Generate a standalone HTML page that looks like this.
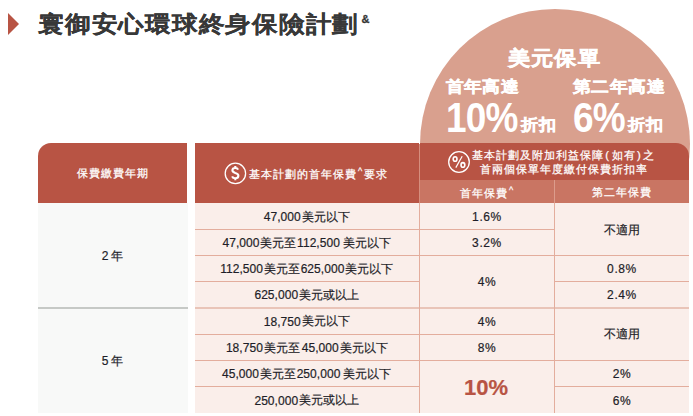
<!DOCTYPE html>
<html><head><meta charset="utf-8">
<style>
*{margin:0;padding:0;box-sizing:border-box}
html,body{width:693px;height:416px;overflow:hidden;background:#fff;font-family:"Liberation Sans",sans-serif}
.a{position:absolute}
.tri{left:8px;top:13px;width:0;height:0;border-top:11px solid transparent;border-bottom:11px solid transparent;border-left:11px solid #b85444}
.title{left:38px;top:7px;font-size:25px;line-height:34px;font-weight:700;color:#383838;-webkit-text-stroke:0.15px #383838;letter-spacing:1.75px;white-space:nowrap;transform:scaleY(0.9);transform-origin:0 16px}
.amp{left:361.5px;top:13px;font-size:11px;font-weight:bold;color:#333;-webkit-text-stroke:0.3px #333}
.circ{left:419.5px;top:9px;width:270px;height:270px;border-radius:50%;background:#d9a08e}
.w{color:#fff;font-weight:bold;white-space:nowrap}
.hdr{background:#b85444}
.sub{background:#c97563}
.cell{display:flex;align-items:center;justify-content:center;color:#fff;font-size:12px;white-space:nowrap}
.body1{background:#f8f9f8}
.bodyp{background:#faeeea}
.hl{background:#e3ad9d;height:1px}
.vl{background:#e3ad9d;width:1px}
.t{display:flex;align-items:center;justify-content:center;color:#1e1e28;-webkit-text-stroke:0.2px #1e1e28;font-size:12px;white-space:nowrap;padding-top:2px}
.n{margin:0 0.8px;letter-spacing:0.05px}
.p{letter-spacing:0.6px;margin-left:0;margin-right:0}
.big{font-size:22px;font-weight:bold;color:#b85444;-webkit-text-stroke:0.2px #b85444}
.cj{font-weight:700;-webkit-text-stroke:0.5px #fff;transform:scaleY(0.9);transform-origin:0 100%}
.num{font-size:43px;line-height:48px;letter-spacing:-1px;transform:scaleX(0.86);transform-origin:0 0}
.hw{color:#fff;font-size:11.3px;line-height:16px;font-weight:400;-webkit-text-stroke:0.25px #fff;letter-spacing:1px;white-space:nowrap}
.car{font-size:9px;vertical-align:4px;margin:0 1px}
.par{margin:0 1.5px}
</style></head><body>
<div class="a tri"></div>
<div class="a title">寰御安心環球終身保險計劃</div>
<div class="a amp">&amp;</div>

<div class="a circ"></div>
<div class="a w cj" style="left:508px;top:42px;font-size:22px;line-height:30px;letter-spacing:1.2px">美元保單</div>
<div class="a w cj" style="left:445.7px;top:73px;font-size:18px;line-height:25px;letter-spacing:0.4px">首年高達</div>
<div class="a w cj" style="left:573px;top:73px;font-size:18px;line-height:25px;letter-spacing:0.4px">第二年高達</div>
<div class="a w num" style="left:446px;top:93px">10%</div>
<div class="a w cj" style="left:521px;top:113px;font-size:17px;line-height:24px;letter-spacing:0.5px;transform:scaleY(0.94)">折扣</div>
<div class="a w num" style="left:573px;top:93px">6%</div>
<div class="a w cj" style="left:627.5px;top:113px;font-size:17px;line-height:24px;letter-spacing:1.5px;transform:scaleY(0.94)">折扣</div>

<!-- header -->
<div class="a hdr" style="left:38px;top:143.3px;width:149.3px;height:59.7px;border-top-left-radius:13px"></div>
<div class="a hw" style="left:76.5px;top:164.5px">保費繳費年期</div>
<div class="a hdr" style="left:195px;top:143.3px;width:224px;height:59.7px"></div>
<svg class="a" style="left:224px;top:162px" width="23" height="23" viewBox="0 0 23 23"><circle cx="11.4" cy="11.4" r="10.2" fill="none" stroke="#fff" stroke-width="1.3"/><path d="M14.1 7.6C13.6 6.5 12.6 6 11.3 6C9.6 6 8.4 6.9 8.4 8.3C8.4 9.8 9.7 10.4 11.3 10.9C13.1 11.4 14.4 12.1 14.4 13.8C14.4 15.4 13.1 16.3 11.3 16.3C9.8 16.3 8.6 15.7 8.1 14.4M11.3 3.9V6.2M11.3 16.1V18.3" fill="none" stroke="#fff" stroke-width="2.1"/></svg>
<div class="a hw" style="left:249px;top:163px">基本計劃的首年保費<span class="car">^</span>要求</div>
<div class="a" style="left:419px;top:143.5px;width:1px;height:59.5px;background:#d58e7e"></div>
<div class="a hdr" style="left:420px;top:143.4px;width:269px;height:36.6px;border-top-right-radius:13px"></div>
<svg class="a" style="left:447px;top:150px" width="24" height="24" viewBox="0 0 24 24"><circle cx="12" cy="12" r="10.3" fill="none" stroke="#fff" stroke-width="1.3"/><ellipse cx="8.1" cy="9" rx="1.9" ry="2.3" fill="none" stroke="#fff" stroke-width="1.6"/><ellipse cx="15.9" cy="14.9" rx="1.9" ry="2.3" fill="none" stroke="#fff" stroke-width="1.6"/><path d="M15.2 6.3L8.8 17.6" stroke="#fff" stroke-width="1.2"/></svg>
<div class="a hw" style="left:463.1px;top:148px;width:201px;text-align:center;line-height:14px">基本計劃及附加利益保障<span class="par">(</span>如有<span class="par">)</span>之<br>首兩個保單年度繳付保費折扣率</div>
<div class="a sub" style="left:420px;top:180px;width:134px;height:23px"></div>
<div class="a" style="left:554px;top:180px;width:1px;height:23px;background:#dc9c8c"></div>
<div class="a sub" style="left:555px;top:180px;width:134px;height:23px"></div>
<div class="a hw" style="left:460px;top:182px">首年保費<span class="car">^</span></div>
<div class="a hw" style="left:591.5px;top:183.5px">第二年保費</div>

<!-- body col1 -->
<div class="a body1 t" style="left:38px;top:203px;width:149.6px;height:104px;padding-right:2px"><span class="n" style="margin-right:2px">2</span>年</div>
<div class="a" style="left:38px;top:307px;width:149.6px;height:2px;background:#c6c9c6"></div>
<div class="a body1 t" style="left:38px;top:309px;width:149.6px;height:104px;padding-right:2px;padding-top:0"><span class="n" style="margin-right:2px">5</span>年</div>
<!-- body pink -->
<div class="a bodyp" style="left:195px;top:203px;width:494px;height:210px"></div>
<div class="a hl" style="left:195px;top:229px;width:224px"></div>
<div class="a hl" style="left:195px;top:255px;width:224px"></div>
<div class="a hl" style="left:195px;top:281px;width:224px"></div>
<div class="a hl" style="left:195px;top:307px;width:224px;height:2px;background:#e9c4b8"></div>
<div class="a hl" style="left:195px;top:334px;width:224px"></div>
<div class="a hl" style="left:195px;top:360px;width:224px"></div>
<div class="a hl" style="left:195px;top:386px;width:224px"></div>
<div class="a hl" style="left:420px;top:229px;width:134px"></div>
<div class="a hl" style="left:420px;top:255px;width:134px"></div>
<div class="a hl" style="left:420px;top:307px;width:134px;height:2px;background:#e9c4b8"></div>
<div class="a hl" style="left:420px;top:334px;width:134px"></div>
<div class="a hl" style="left:420px;top:360px;width:134px"></div>
<div class="a hl" style="left:555px;top:255px;width:134px"></div>
<div class="a hl" style="left:555px;top:281px;width:134px"></div>
<div class="a hl" style="left:555px;top:307px;width:134px;height:2px;background:#e9c4b8"></div>
<div class="a hl" style="left:555px;top:360px;width:134px"></div>
<div class="a hl" style="left:555px;top:386px;width:134px"></div>
<div class="a vl" style="left:419px;top:203px;height:210px"></div>
<div class="a vl" style="left:554px;top:203px;height:210px"></div>
<div class="a t" style="left:194.3px;top:203px;width:224px;height:26px"><span class="n">47,000</span>美元以下</div>
<div class="a t" style="left:194.3px;top:229px;width:224px;height:26px"><span class="n">47,000</span>美元至<span class="n" style="margin-right:3px">112,500</span>美元以下</div>
<div class="a t" style="left:194.3px;top:255px;width:224px;height:26px"><span class="n">112,500</span>美元至<span class="n">625,000</span>美元以下</div>
<div class="a t" style="left:194.3px;top:281px;width:224px;height:26px"><span class="n">625,000</span>美元或以上</div>
<div class="a t" style="left:194.3px;top:307px;width:224px;height:27px"><span class="n">18,750</span>美元以下</div>
<div class="a t" style="left:194.3px;top:334px;width:224px;height:26px"><span class="n">18,750</span>美元至<span class="n" style="margin-left:2px">45,000</span>美元以下</div>
<div class="a t" style="left:194.3px;top:360px;width:224px;height:26px"><span class="n">45,000</span>美元至<span class="n" style="margin-right:3px">250,000</span>美元以下</div>
<div class="a t" style="left:194.3px;top:386px;width:224px;height:27px"><span class="n">250,000</span>美元或以上</div>
<div class="a t" style="left:420px;top:203px;width:134px;height:26px"><span class="n p">1.6%</span></div>
<div class="a t" style="left:420px;top:229px;width:134px;height:26px"><span class="n p">3.2%</span></div>
<div class="a t" style="left:420px;top:255px;width:134px;height:52px"><span class="n p">4%</span></div>
<div class="a t" style="left:420px;top:307px;width:134px;height:27px"><span class="n p">4%</span></div>
<div class="a t" style="left:420px;top:334px;width:134px;height:26px"><span class="n p">8%</span></div>
<div class="a t big" style="left:419px;top:360px;width:134px;height:53px">10%</div>
<div class="a t" style="left:555px;top:203px;width:134px;height:52px">不適用</div>
<div class="a t" style="left:555px;top:255px;width:134px;height:26px"><span class="n p">0.8%</span></div>
<div class="a t" style="left:555px;top:281px;width:134px;height:26px"><span class="n p">2.4%</span></div>
<div class="a t" style="left:555px;top:307px;width:134px;height:53px">不適用</div>
<div class="a t" style="left:555px;top:360px;width:134px;height:26px"><span class="n p">2%</span></div>
<div class="a t" style="left:555px;top:386px;width:134px;height:27px"><span class="n p">6%</span></div>
</body></html>
